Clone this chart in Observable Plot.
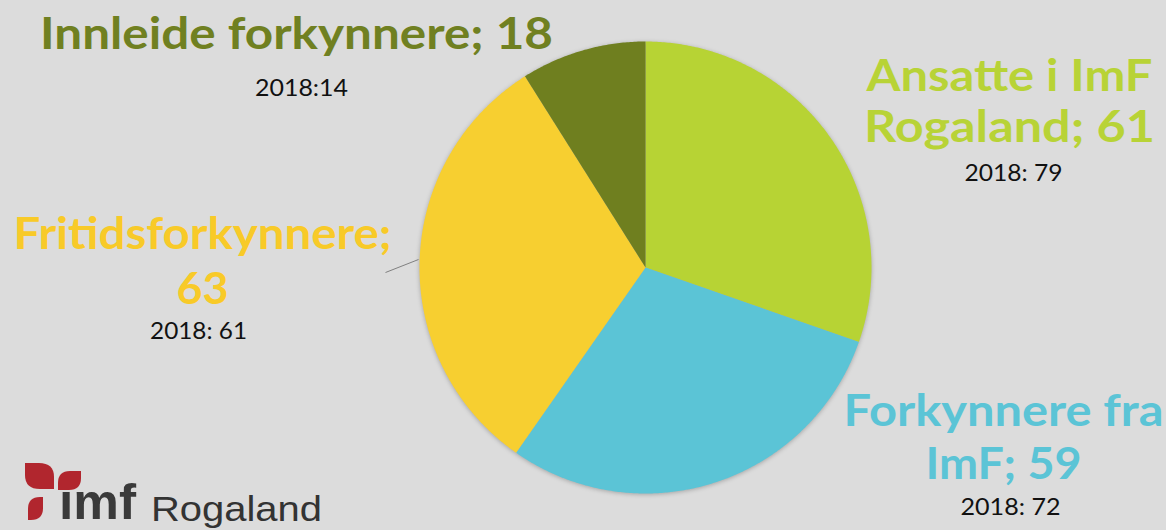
<!DOCTYPE html>
<html><head><meta charset="utf-8">
<script src="https://cdn.jsdelivr.net/npm/d3@7"></script>
<script src="https://cdn.jsdelivr.net/npm/@observablehq/plot@0.6"></script>
<style>
html,body{margin:0;padding:0;background:#dcdcdc;}
#wrap{position:relative;width:1166px;height:530px;overflow:hidden;background:#dcdcdc;}
#wrap svg{position:absolute;left:0;top:0;}
</style></head><body><div id="wrap"></div>
<script>
// ---- data ----
const categories = ["Ansatte i ImF Rogaland", "Forkynnere fra ImF", "Fritidsforkynnere", "Innleide forkynnere"];
const values = [61, 59, 63, 18];
const values2018 = [79, 72, 61, 14];
const sliceColors = ["#b7d334", "#5bc4d6", "#f7cf30", "#6f7f1f"];
const labelColors = ["#b8d336", "#5bc4d6", "#f8ca28", "#708021"];

// ---- layout (pixels) ----
const W = 1166, H = 530, CX = 645, CY = 267, R = 226;
const toX = px => (px - CX) / R, toY = py => (CY - py) / R;
const breaks = [3, 2, 1, 0];            // words on first line of each label
const titleLayout = [
  {x: 1009, y: [90, 141], w: [286, 291]},
  {x: 1003, y: [425, 478], w: [320, 156]},
  {x: 202,  y: [248, 303], w: [378, 52]},
  {x: 296,  y: [48],       w: [513]}
];
const subLayout = [
  {x: 1013, y: 180, w: 98},
  {x: 1010, y: 514, w: 100},
  {x: 198,  y: 338, w: 97},
  {x: 301,  y: 95,  w: 93}
];

// ---- pie geometry from values ----
const arcs = d3.pie().sort(null).value(d => d)(values);
const slices = [];
arcs.forEach((a, i) => {
  const n = Math.max(4, Math.ceil((a.endAngle - a.startAngle) * 120));
  slices.push({cat: categories[i], x: 0, y: 0});
  for (let k = 0; k <= n; k++) {
    const t = a.startAngle + (a.endAngle - a.startAngle) * k / n;
    slices.push({cat: categories[i], x: Math.sin(t), y: Math.cos(t)});
  }
});

// ---- labels ----
const titles = [], widths = new Map();
categories.forEach((c, i) => {
  const words = (c + "; " + values[i]).split(" ");
  const lines = breaks[i] ? [words.slice(0, breaks[i]).join(" "), words.slice(breaks[i]).join(" ")] : [words.join(" ")];
  lines.forEach((l, j) => {
    titles.push({text: l, x: toX(titleLayout[i].x), y: toY(titleLayout[i].y[j]), color: labelColors[i]});
    widths.set(l, titleLayout[i].w[j]);
  });
});
const subs = values2018.map((v, i) => {
  const t = "2018:" + (i === 3 ? "" : " ") + v;
  widths.set(t, subLayout[i].w);
  return {text: t, x: toX(subLayout[i].x), y: toY(subLayout[i].y)};
});
const leader = [{x1: toX(385), y1: toY(272), x2: toX(418), y2: toY(259)}];

const chart = Plot.plot({
  width: W, height: H, margin: 0,
  x: {domain: [toX(0), toX(W)], axis: null},
  y: {domain: [toY(H), toY(0)], axis: null},
  color: {domain: categories, range: sliceColors},
  style: {background: "transparent", overflow: "visible"},
  marks: [
    Plot.line(slices, {x: "x", y: "y", z: "cat", fill: "cat", stroke: "none", curve: "linear-closed"}),
    Plot.link(leader, {x1: "x1", y1: "y1", x2: "x2", y2: "y2", stroke: "#808080", strokeWidth: 1}),
    Plot.text(titles, {x: "x", y: "y", text: "text", fill: d => d.color, fontSize: 44, fontWeight: 700,
      fontFamily: "Lato", textAnchor: "middle", lineAnchor: "bottom"}),
    Plot.text(subs, {x: "x", y: "y", text: "text", fill: "#111", fontSize: 23,
      fontFamily: "Lato", textAnchor: "middle", lineAnchor: "bottom"})
  ]
});
document.getElementById("wrap").appendChild(chart);

// fit label widths
chart.querySelectorAll("text").forEach(t => {
  const w = widths.get(t.textContent);
  if (w) { t.setAttribute("textLength", w); t.setAttribute("lengthAdjust", "spacingAndGlyphs"); }
});
const lineG = chart.querySelector('g[aria-label="line"]');
if (lineG) lineG.style.filter = "drop-shadow(0px 1px 2px rgba(0,0,0,0.25))";

// logo
const ns = "http://www.w3.org/2000/svg";
const logo = document.createElementNS(ns, "svg");
logo.setAttribute("width", W); logo.setAttribute("height", H);
logo.innerHTML = `
  <text x="59" y="519" font-family="Liberation Sans" font-weight="700" font-size="50" fill="#3a3a3a" textLength="77" lengthAdjust="spacingAndGlyphs">ımf</text>
  <text x="151" y="521" font-family="Liberation Sans" font-size="35" fill="#333" textLength="171" lengthAdjust="spacingAndGlyphs">Rogaland</text>
  <g fill="#b1262e">
    <path d="M25,463 L39,463 Q54,463 54,477 L54,489 L40,489 Q25,489 25,475 Z"/>
    <path d="M58,490 L58,483 Q58,471 70,471 L81,471 L81,478 Q81,490 69,490 Z"/>
    <path d="M43,497 L43,508 Q43,520 31,520 L28,520 L28,509 Q28,497 40,497 Z"/>
  </g>`;
document.getElementById("wrap").appendChild(logo);
</script></body></html>
